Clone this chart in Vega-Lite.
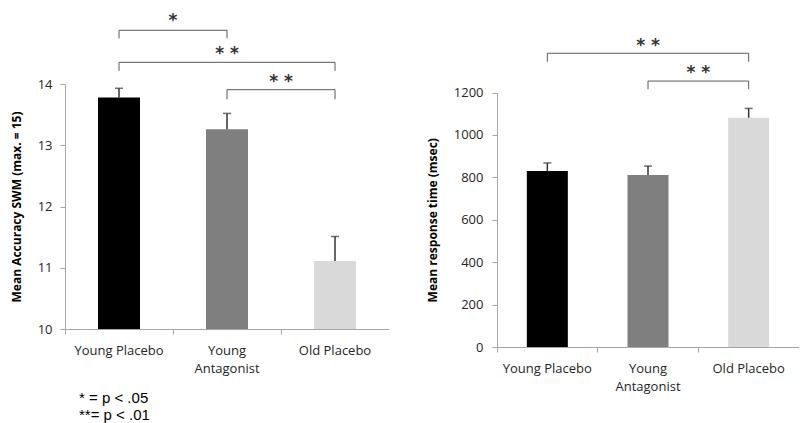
{
  "$schema": "https://vega.github.io/schema/vega-lite/v6.json",
  "padding": {"left": 10, "top": 11, "right": 0, "bottom": 0},
  "background": "white",
  "bounds": "flush",
  "spacing": 108,
  "config": {
    "view": {"stroke": null},
    "font": "Open Sans",
    "axis": {
      "grid": false,
      "domainColor": "#a6a6a6",
      "tickColor": "#a6a6a6",
      "labelFont": "Open Sans",
      "labelFontSize": 13,
      "labelColor": "#262626",
      "titleFont": "Open Sans",
      "titleFontSize": 12,
      "titleFontWeight": "bold",
      "titleColor": "#000000"
    }
  },
  "datasets": {
    "accuracy": [
      {"group": "Young Placebo", "mean": 13.78, "upper": 13.93},
      {"group": "Young Antagonist", "mean": 13.26, "upper": 13.52},
      {"group": "Old Placebo", "mean": 11.11, "upper": 11.51}
    ],
    "accBrackets": [
      {"from": "Young Placebo", "to": "Young Antagonist", "top": 14.877, "leg": 14.746, "label": "*", "labelAt": "Young Antagonist", "labelY": 15.033, "span": "adjacent"},
      {"from": "Young Placebo", "to": "Old Placebo", "top": 14.354, "leg": 14.212, "label": "* *", "labelAt": "Young Antagonist", "labelY": 14.49, "span": "wide"},
      {"from": "Young Antagonist", "to": "Old Placebo", "top": 13.907, "leg": 13.75, "label": "* *", "labelAt": "Old Placebo", "labelY": 14.028, "span": "adjacent"}
    ],
    "rt": [
      {"group": "Young Placebo", "mean": 830, "upper": 868},
      {"group": "Young Antagonist", "mean": 811, "upper": 853},
      {"group": "Old Placebo", "mean": 1081, "upper": 1125}
    ],
    "rtBrackets": [
      {"from": "Young Placebo", "to": "Old Placebo", "top": 1385, "leg": 1345, "label": "* *", "labelAt": "Young Antagonist", "labelY": 1421, "span": "wide"},
      {"from": "Young Antagonist", "to": "Old Placebo", "top": 1254, "leg": 1215, "label": "* *", "labelAt": "Old Placebo", "labelY": 1290, "span": "adjacent"}
    ]
  },
  "hconcat": [
    {
      "width": 324,
      "height": 245,
      "title": {
        "text": ["* = p < .05", "**= p < .01"],
        "orient": "bottom",
        "anchor": "start",
        "frame": "group",
        "font": "Liberation Sans",
        "fontSize": 15,
        "fontWeight": "normal",
        "color": "#000000",
        "lineHeight": 17,
        "dx": 14,
        "offset": 16
      },
      "layer": [
        {
          "data": {"name": "accuracy"},
          "mark": {"type": "bar", "width": 42},
          "encoding": {
            "x": {
              "field": "group", "type": "nominal", "sort": null, "title": null,
              "scale": {"domain": ["Young Placebo", "Young Antagonist", "Old Placebo"], "paddingInner": 0, "paddingOuter": 0},
              "axis": {
                "bandPosition": 0, "tickSize": 5, "labelPadding": 10, "labelAngle": 0,
                "labelLineHeight": 18,
                "labelExpr": "datum.label == 'Young Antagonist' ? ['Young', 'Antagonist'] : datum.label"
              }
            },
            "y": {
              "field": "mean", "type": "quantitative", "title": "Mean Accuracy SWM (max. = 15)",
              "scale": {"domain": [10, 14], "zero": false, "nice": false},
              "axis": {"values": [10, 11, 12, 13, 14], "format": "d", "tickSize": 5, "labelPadding": 8, "titlePadding": 14}
            },
            "y2": {"datum": 10},
            "color": {
              "field": "group", "type": "nominal",
              "scale": {"domain": ["Young Placebo", "Young Antagonist", "Old Placebo"], "range": ["#000000", "#7f7f7f", "#d9d9d9"]},
              "legend": null
            }
          }
        },
        {
          "data": {"name": "accuracy"},
          "mark": {"type": "rule", "color": "#333333", "strokeWidth": 1.5},
          "encoding": {
            "x": {"field": "group", "type": "nominal", "title": null},
            "y": {"field": "mean", "type": "quantitative", "title": "Mean Accuracy SWM (max. = 15)"},
            "y2": {"field": "upper"}
          }
        },
        {
          "data": {"name": "accuracy"},
          "mark": {"type": "tick", "color": "#333333", "thickness": 1.5, "size": 8},
          "encoding": {
            "x": {"field": "group", "type": "nominal", "title": null},
            "y": {"field": "upper", "type": "quantitative", "title": "Mean Accuracy SWM (max. = 15)"}
          }
        },
        {
          "data": {"name": "accBrackets"},
          "mark": {"type": "rule", "color": "#595959", "strokeWidth": 1},
          "encoding": {
            "x": {"field": "from", "type": "nominal", "title": null},
            "x2": {"field": "to"},
            "y": {"field": "top", "type": "quantitative", "title": "Mean Accuracy SWM (max. = 15)"}
          }
        },
        {
          "data": {"name": "accBrackets"},
          "mark": {"type": "rule", "color": "#595959", "strokeWidth": 1},
          "encoding": {
            "x": {"field": "from", "type": "nominal", "title": null},
            "y": {"field": "top", "type": "quantitative", "title": "Mean Accuracy SWM (max. = 15)"},
            "y2": {"field": "leg"}
          }
        },
        {
          "data": {"name": "accBrackets"},
          "mark": {"type": "rule", "color": "#595959", "strokeWidth": 1},
          "encoding": {
            "x": {"field": "to", "type": "nominal", "title": null},
            "y": {"field": "top", "type": "quantitative", "title": "Mean Accuracy SWM (max. = 15)"},
            "y2": {"field": "leg"}
          }
        },
        {
          "data": {"name": "accBrackets"},
          "transform": [{"filter": "datum.span == 'adjacent'"}],
          "mark": {"type": "text", "font": "DejaVu Sans", "fontSize": 17, "fontWeight": "bold", "color": "#333333", "baseline": "middle"},
          "encoding": {
            "x": {"field": "labelAt", "type": "nominal", "bandPosition": 0, "title": null},
            "y": {"field": "labelY", "type": "quantitative", "title": "Mean Accuracy SWM (max. = 15)"},
            "text": {"field": "label"}
          }
        },
        {
          "data": {"name": "accBrackets"},
          "transform": [{"filter": "datum.span == 'wide'"}],
          "mark": {"type": "text", "font": "DejaVu Sans", "fontSize": 17, "fontWeight": "bold", "color": "#333333", "baseline": "middle"},
          "encoding": {
            "x": {"field": "labelAt", "type": "nominal", "title": null},
            "y": {"field": "labelY", "type": "quantitative", "title": "Mean Accuracy SWM (max. = 15)"},
            "text": {"field": "label"}
          }
        }
      ]
    },
    {
      "width": 302,
      "height": 263,
      "layer": [
        {
          "data": {"name": "rt"},
          "mark": {"type": "bar", "width": 41},
          "encoding": {
            "x": {
              "field": "group", "type": "nominal", "sort": null, "title": null,
              "scale": {"domain": ["Young Placebo", "Young Antagonist", "Old Placebo"], "paddingInner": 0, "paddingOuter": 0},
              "axis": {
                "bandPosition": 0, "tickSize": 5, "labelPadding": 10, "labelAngle": 0,
                "labelLineHeight": 18,
                "labelExpr": "datum.label == 'Young Antagonist' ? ['Young', 'Antagonist'] : datum.label"
              }
            },
            "y": {
              "field": "mean", "type": "quantitative", "title": "Mean response time (msec)",
              "scale": {"domain": [0, 1200], "range": [263, 8.5], "nice": false},
              "axis": {"values": [0, 200, 400, 600, 800, 1000, 1200], "format": "d", "tickSize": 5, "labelPadding": 9, "titlePadding": 14}
            },
            "y2": {"datum": 0},
            "color": {
              "field": "group", "type": "nominal",
              "scale": {"domain": ["Young Placebo", "Young Antagonist", "Old Placebo"], "range": ["#000000", "#7f7f7f", "#d9d9d9"]},
              "legend": null
            }
          }
        },
        {
          "data": {"name": "rt"},
          "mark": {"type": "rule", "color": "#333333", "strokeWidth": 1.5},
          "encoding": {
            "x": {"field": "group", "type": "nominal", "title": null},
            "y": {"field": "mean", "type": "quantitative", "title": "Mean response time (msec)"},
            "y2": {"field": "upper"}
          }
        },
        {
          "data": {"name": "rt"},
          "mark": {"type": "tick", "color": "#333333", "thickness": 1.5, "size": 8},
          "encoding": {
            "x": {"field": "group", "type": "nominal", "title": null},
            "y": {"field": "upper", "type": "quantitative", "title": "Mean response time (msec)"}
          }
        },
        {
          "data": {"name": "rtBrackets"},
          "mark": {"type": "rule", "color": "#595959", "strokeWidth": 1},
          "encoding": {
            "x": {"field": "from", "type": "nominal", "title": null},
            "x2": {"field": "to"},
            "y": {"field": "top", "type": "quantitative", "title": "Mean response time (msec)"}
          }
        },
        {
          "data": {"name": "rtBrackets"},
          "mark": {"type": "rule", "color": "#595959", "strokeWidth": 1},
          "encoding": {
            "x": {"field": "from", "type": "nominal", "title": null},
            "y": {"field": "top", "type": "quantitative", "title": "Mean response time (msec)"},
            "y2": {"field": "leg"}
          }
        },
        {
          "data": {"name": "rtBrackets"},
          "mark": {"type": "rule", "color": "#595959", "strokeWidth": 1},
          "encoding": {
            "x": {"field": "to", "type": "nominal", "title": null},
            "y": {"field": "top", "type": "quantitative", "title": "Mean response time (msec)"},
            "y2": {"field": "leg"}
          }
        },
        {
          "data": {"name": "rtBrackets"},
          "transform": [{"filter": "datum.span == 'adjacent'"}],
          "mark": {"type": "text", "font": "DejaVu Sans", "fontSize": 17, "fontWeight": "bold", "color": "#333333", "baseline": "middle"},
          "encoding": {
            "x": {"field": "labelAt", "type": "nominal", "bandPosition": 0, "title": null},
            "y": {"field": "labelY", "type": "quantitative", "title": "Mean response time (msec)"},
            "text": {"field": "label"}
          }
        },
        {
          "data": {"name": "rtBrackets"},
          "transform": [{"filter": "datum.span == 'wide'"}],
          "mark": {"type": "text", "font": "DejaVu Sans", "fontSize": 17, "fontWeight": "bold", "color": "#333333", "baseline": "middle"},
          "encoding": {
            "x": {"field": "labelAt", "type": "nominal", "title": null},
            "y": {"field": "labelY", "type": "quantitative", "title": "Mean response time (msec)"},
            "text": {"field": "label"}
          }
        }
      ]
    }
  ]
}
